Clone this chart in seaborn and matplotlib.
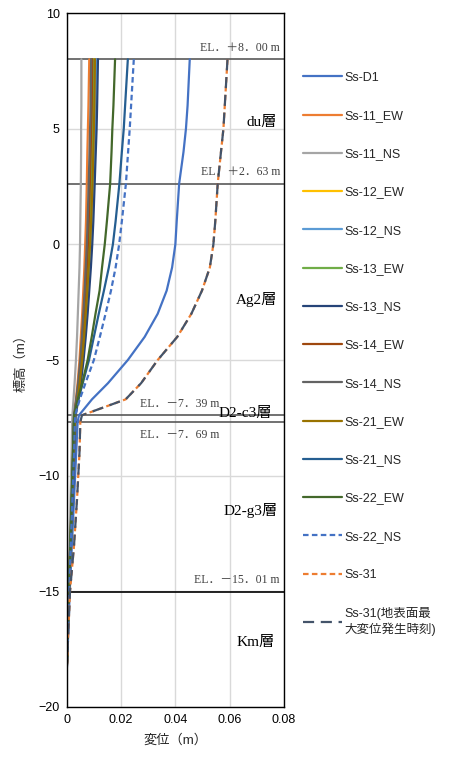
import matplotlib
matplotlib.use("Agg")
import matplotlib.pyplot as plt
import seaborn as sns
import pandas as pd

sns.set_theme(style="white")
plt.rcParams['font.family'] = ['Liberation Sans', 'Noto Sans CJK JP', 'DejaVu Sans']

elev = [8, 6, 5, 4, 2.63, 1, 0, -1, -2, -3, -4, -5, -6, -6.7, -7.39, -7.69,
        -9, -11, -13, -15.01, -17, -18.5]

ss_d1 = [0.0453, 0.0445, 0.0439, 0.0430, 0.0414, 0.0405, 0.0400, 0.0388, 0.0368, 0.0335, 0.0287,
         0.0225, 0.0152, 0.0093, 0.0045, 0.0040, 0.0035, 0.0027, 0.0019, 0.0011, 0.0005, 0.0]
ss_11_ew = [0.0083, 0.0080, 0.0078, 0.0076, 0.0074, 0.0071, 0.0068, 0.0065, 0.0061, 0.0057, 0.0052,
            0.0047, 0.0040, 0.0034, 0.0026, 0.0025, 0.0022, 0.0017, 0.0012, 0.0007, 0.0003, 0.0]
ss_11_ns = [0.0054, 0.0054, 0.0053, 0.0053, 0.0052, 0.0050, 0.0049, 0.0047, 0.0044, 0.0041, 0.0038,
            0.0034, 0.0029, 0.0025, 0.0021, 0.0020, 0.0018, 0.0014, 0.0010, 0.0006, 0.0002, 0.0]
ss_12_ew = [0.0101, 0.0099, 0.0097, 0.0095, 0.0092, 0.0087, 0.0083, 0.0079, 0.0074, 0.0068, 0.0062,
            0.0055, 0.0047, 0.0039, 0.0030, 0.0029, 0.0025, 0.0020, 0.0014, 0.0008, 0.0003, 0.0]
ss_12_ns = [0.0108, 0.0106, 0.0104, 0.0101, 0.0098, 0.0093, 0.0089, 0.0084, 0.0079, 0.0073, 0.0066,
            0.0059, 0.0050, 0.0041, 0.0032, 0.0031, 0.0027, 0.0021, 0.0015, 0.0009, 0.0003, 0.0]
ss_13_ew = [0.0098, 0.0096, 0.0094, 0.0092, 0.0089, 0.0085, 0.0081, 0.0077, 0.0072, 0.0066, 0.0060,
            0.0054, 0.0046, 0.0038, 0.0029, 0.0028, 0.0025, 0.0019, 0.0014, 0.0008, 0.0003, 0.0]
ss_13_ns = [0.0115, 0.0112, 0.0110, 0.0107, 0.0103, 0.0098, 0.0094, 0.0089, 0.0083, 0.0077, 0.0070,
            0.0062, 0.0052, 0.0043, 0.0033, 0.0032, 0.0028, 0.0022, 0.0015, 0.0009, 0.0003, 0.0]
ss_14_ew = [0.0094, 0.0092, 0.0090, 0.0088, 0.0085, 0.0081, 0.0078, 0.0074, 0.0069, 0.0064, 0.0058,
            0.0052, 0.0044, 0.0036, 0.0028, 0.0027, 0.0024, 0.0019, 0.0013, 0.0008, 0.0003, 0.0]
ss_14_ns = [0.0090, 0.0088, 0.0086, 0.0084, 0.0081, 0.0077, 0.0074, 0.0070, 0.0066, 0.0061, 0.0056,
            0.0050, 0.0042, 0.0035, 0.0027, 0.0026, 0.0023, 0.0018, 0.0013, 0.0008, 0.0003, 0.0]
ss_21_ew = [0.0104, 0.0102, 0.0100, 0.0098, 0.0095, 0.0090, 0.0086, 0.0081, 0.0076, 0.0070, 0.0064,
            0.0057, 0.0048, 0.0040, 0.0031, 0.0030, 0.0026, 0.0020, 0.0014, 0.0008, 0.0003, 0.0]
ss_21_ns = [0.0225, 0.0215, 0.0210, 0.0203, 0.0194, 0.0180, 0.0170, 0.0155, 0.0137, 0.0118, 0.0100,
            0.0082, 0.0059, 0.0043, 0.0028, 0.0027, 0.0024, 0.0019, 0.0014, 0.0008, 0.0003, 0.0]
ss_22_ew = [0.0178, 0.0172, 0.0168, 0.0165, 0.0160, 0.0148, 0.0140, 0.0130, 0.0121, 0.0106, 0.0092,
            0.0077, 0.0057, 0.0041, 0.0027, 0.0026, 0.0023, 0.0018, 0.0013, 0.0008, 0.0003, 0.0]
ss_22_ns = [0.0247, 0.0237, 0.0232, 0.0226, 0.0218, 0.0203, 0.0193, 0.0180, 0.0163, 0.0143, 0.0122,
            0.0100, 0.0069, 0.0048, 0.0031, 0.0030, 0.0027, 0.0021, 0.0015, 0.0009, 0.0004, 0.0]
ss_31 = [0.0592, 0.0582, 0.0577, 0.0568, 0.0556, 0.0547, 0.0540, 0.0527, 0.0498, 0.0459, 0.0407,
         0.0335, 0.0274, 0.0217, 0.0056, 0.0050, 0.0047, 0.0038, 0.0027, 0.0012, 0.0005, 0.0]
ss_31_t = [0.0592, 0.0582, 0.0577, 0.0568, 0.0556, 0.0547, 0.0540, 0.0527, 0.0498, 0.0459, 0.0407,
           0.0335, 0.0274, 0.0217, 0.0056, 0.0050, 0.0047, 0.0038, 0.0027, 0.0012, 0.0005, 0.0]

series_names = ["Ss-D1", "Ss-11_EW", "Ss-11_NS", "Ss-12_EW", "Ss-12_NS", "Ss-13_EW", "Ss-13_NS",
                "Ss-14_EW", "Ss-14_NS", "Ss-21_EW", "Ss-21_NS", "Ss-22_EW", "Ss-22_NS", "Ss-31",
                "Ss-31(地表面最\n大変位発生時刻)"]
series_vals = [ss_d1, ss_11_ew, ss_11_ns, ss_12_ew, ss_12_ns, ss_13_ew, ss_13_ns, ss_14_ew, ss_14_ns,
               ss_21_ew, ss_21_ns, ss_22_ew, ss_22_ns, ss_31, ss_31_t]
colors = ["#4472C4", "#ED7D31", "#A5A5A5", "#FFC000", "#5B9BD5", "#70AD47", "#264478",
          "#9E480E", "#636363", "#997300", "#255E91", "#43682B", "#4472C4", "#ED7D31", "#44546A"]
styles = ["-"] * 12 + [(0, (2.5, 1.5)), (0, (2.5, 1.5)), (0, (5, 3))]

layer_el = [8.00, 2.63, -7.39, -7.69, -15.01]
layer_el_labels = ["EL．＋8．00 m", "EL．＋2．63 m", "EL．－7．39 m", "EL．－7．69 m", "EL．－15．01 m"]
layer_names = ["du層", "Ag2層", "D2-c3層", "D2-g3層", "Km層"]
layer_name_y = [5.25, -2.4, -7.3, -11.5, -17.2]

fig = plt.figure(figsize=(4.49, 7.58), dpi=100)
ax = fig.add_axes([0.1486, 0.0673, 0.6325 - 0.1486, 0.9828 - 0.0673])

for name, vals, c, ls in zip(series_names, series_vals, colors, styles):
    df = pd.DataFrame({"disp": vals, "elev": elev})
    sns.lineplot(data=df, x="disp", y="elev", orient="y", sort=False, ax=ax,
                 color=c, linestyle=ls, linewidth=1.6, label=name)

for e in layer_el[:4]:
    ax.axhline(e, color="#595959", linewidth=1.2, zorder=1)
ax.axhline(layer_el[4], color="black", linewidth=1.2, zorder=1)

serif = ['Liberation Serif', 'Noto Sans CJK JP']
elfs = 8.5
ax.text(0.0785, 8.00 + 0.25, layer_el_labels[0], ha="right", va="bottom", fontsize=elfs,
        color="#404040", family=serif)
ax.text(0.0785, 2.63 + 0.25, layer_el_labels[1], ha="right", va="bottom", fontsize=elfs,
        color="#404040", family=serif)
ax.text(0.0415, -7.39 + 0.25, layer_el_labels[2], ha="center", va="bottom", fontsize=elfs,
        color="#404040", family=serif)
ax.text(0.0415, -7.69 - 0.3, layer_el_labels[3], ha="center", va="top", fontsize=elfs,
        color="#404040", family=serif)
ax.text(0.0785, -15.01 + 0.25, layer_el_labels[4], ha="right", va="bottom", fontsize=elfs,
        color="#404040", family=serif)

name_x = [0.0775, 0.0775, 0.0755, 0.0775, 0.0765]
for nm, ny, nx in zip(layer_names, layer_name_y, name_x):
    ax.text(nx, ny, nm, ha="right", va="center", fontsize=11, color="black", family=serif)

ax.set_xlim(0, 0.08)
ax.set_ylim(-20, 10)
ax.set_xticks([0, 0.02, 0.04, 0.06, 0.08])
ax.set_xticklabels(["0", "0.02", "0.04", "0.06", "0.08"])
ax.set_yticks([-20, -15, -10, -5, 0, 5, 10])
ax.tick_params(axis="both", labelsize=9, colors="black", length=0, pad=5)
ax.grid(True, color="#D9D9D9", linewidth=1)
ax.set_axisbelow(True)
for sp in ax.spines.values():
    sp.set_color("black")
    sp.set_linewidth(1)
ax.set_xlabel("変位（m）", fontsize=9.5, labelpad=6)
ax.set_ylabel("標高（m）", fontsize=9.5, labelpad=8)

ax.legend(loc="upper left", bbox_to_anchor=(0.664, 0.912), bbox_transform=fig.transFigure,
          frameon=False, fontsize=9, handlelength=3.1, labelspacing=2.1, handletextpad=0.2,
          borderaxespad=0)

fig.savefig("out.png", dpi=100)
